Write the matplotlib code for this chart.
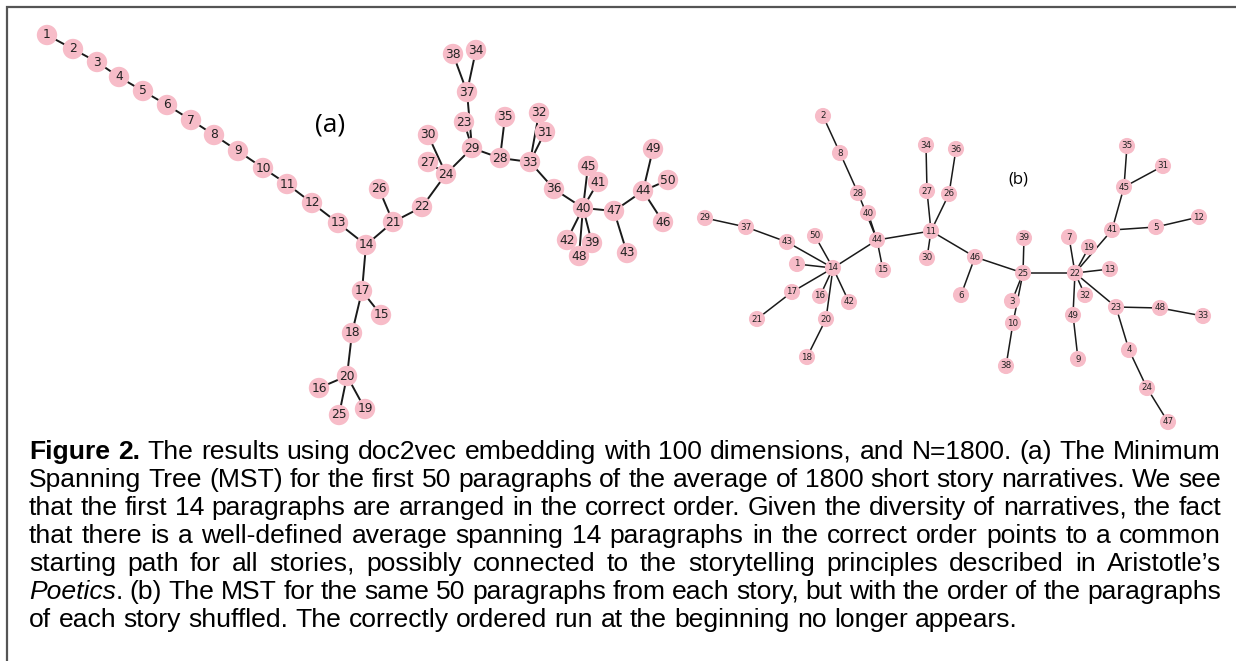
import matplotlib
matplotlib.use("Agg")
import matplotlib.pyplot as plt

W, H = 1236, 661

# panel (a): node positions (layout, image units) and MST edges
pos_a = {
    1: (47, 35), 2: (73, 49), 3: (97, 62), 4: (119, 77), 5: (143, 91),
    6: (167, 105), 7: (191, 120), 8: (214, 135), 9: (238, 151), 10: (263, 168),
    11: (287, 184), 12: (312, 203), 13: (338, 223), 14: (366, 245),
    15: (381, 315), 16: (319, 388), 17: (362, 291), 18: (352, 333),
    19: (365, 409), 20: (347, 376), 21: (393, 222), 22: (422, 207),
    23: (464, 122), 24: (446, 174), 25: (339, 415), 26: (379, 189),
    27: (428, 162), 28: (500, 158), 29: (472, 148), 30: (428, 135),
    31: (545, 132), 32: (539, 113), 33: (530, 162), 34: (476, 50),
    35: (505, 117), 36: (554, 189), 37: (467, 92), 38: (453, 54),
    39: (592, 243), 40: (583, 208), 41: (598, 182), 42: (567, 240),
    43: (627, 253), 44: (643, 191), 45: (588, 166), 46: (663, 222),
    47: (614, 211), 48: (579, 256), 49: (653, 149), 50: (668, 180),
}
edges_a = [(i, i + 1) for i in range(1, 14)] + [
    (14, 21), (21, 26), (21, 22), (22, 24), (24, 27), (24, 30), (24, 29),
    (29, 23), (29, 37), (37, 38), (37, 34), (29, 28), (28, 35), (28, 33),
    (33, 32), (33, 31), (33, 36), (36, 40), (40, 45), (40, 41), (40, 42),
    (40, 48), (40, 39), (40, 47), (47, 43), (47, 44), (44, 49), (44, 50),
    (44, 46), (14, 17), (17, 15), (17, 18), (18, 20), (20, 16), (20, 25),
    (20, 19),
]

# panel (b): shuffled paragraphs
pos_b = {
    1: (797, 264), 2: (823, 116), 3: (1012, 301), 4: (1129, 350), 5: (1156, 227),
    6: (961, 295), 7: (1069, 237), 8: (840, 153), 9: (1078, 359), 10: (1013, 323),
    11: (931, 231), 12: (1199, 217), 13: (1110, 269), 14: (833, 268),
    15: (883, 270), 16: (820, 296), 17: (792, 292), 18: (807, 357),
    19: (1089, 247), 20: (826, 319), 21: (757, 319), 22: (1075, 273),
    23: (1116, 307), 24: (1147, 388), 25: (1023, 273), 26: (949, 194),
    27: (927, 191), 28: (858, 193), 29: (705, 218), 30: (927, 258),
    31: (1163, 166), 32: (1085, 295), 33: (1203, 316), 34: (926, 145),
    35: (1127, 146), 36: (956, 149), 37: (746, 227), 38: (1006, 366),
    39: (1024, 238), 40: (868, 213), 41: (1112, 230), 42: (849, 302),
    43: (787, 242), 44: (877, 240), 45: (1124, 187), 46: (975, 257),
    47: (1168, 422), 48: (1160, 308), 49: (1073, 315), 50: (815, 236),
}
edges_b = [
    (2, 8), (8, 28), (28, 44), (40, 44), (44, 15), (44, 14), (44, 11),
    (14, 43), (43, 37), (37, 29), (14, 50), (14, 1), (14, 17), (17, 21),
    (14, 16), (14, 20), (20, 18), (14, 42), (11, 27), (27, 34), (11, 26),
    (26, 36), (11, 30), (11, 46), (46, 6), (46, 25), (25, 39), (25, 3),
    (25, 10), (10, 38), (25, 22), (22, 7), (22, 19), (22, 41), (41, 45),
    (45, 35), (45, 31), (41, 5), (5, 12), (22, 13), (22, 32), (22, 49),
    (49, 9), (22, 23), (23, 48), (48, 33), (23, 4), (4, 24), (24, 47),
]

caption = [
    [("Figure 2.", "bold"), " The results using doc2vec embedding with 100 dimensions, and N=1800. (a) The Minimum"],
    ["Spanning Tree (MST) for the first 50 paragraphs of the average of 1800 short story narratives. We see"],
    ["that the first 14 paragraphs are arranged in the correct order. Given the diversity of narratives, the fact"],
    ["that there is a well-defined average spanning 14 paragraphs in the correct order points to a common"],
    ["starting path for all stories, possibly connected to the storytelling principles described in Aristotle\u2019s"],
    [("Poetics", "italic"), ". (b) The MST for the same 50 paragraphs from each story, but with the order of the  paragraphs"],
    ["of each story shuffled. The correctly ordered run at the beginning no longer appears."],
]

fig = plt.figure(figsize=(W / 100, H / 100), dpi=100)
ax = fig.add_axes([0, 0, 1, 1])
ax.set_xlim(0, W)
ax.set_ylim(H, 0)
ax.axis("off")

# frame (only top and left edges are visible in the crop)
ax.plot([7, 7, W + 5], [H + 5, 7, 7], color="#555555", lw=1.6, solid_joinstyle="miter")


def draw_tree(pos, edges, size, lw, fs):
    for u, v in edges:
        ax.plot([pos[u][0], pos[v][0]], [pos[u][1], pos[v][1]],
                color="#1a1a1a", lw=lw, zorder=1)
    xs = [p[0] for p in pos.values()]
    ys = [p[1] for p in pos.values()]
    ax.scatter(xs, ys, s=size, color="#f7bcc8", edgecolors="none", zorder=2)
    for n, (x, y) in pos.items():
        ax.text(x, y, str(n), ha="center", va="center", fontsize=fs,
                color="#222222", zorder=3)


draw_tree(pos_a, edges_a, 215, 1.4, 8.8)
draw_tree(pos_b, edges_b, 135, 1.1, 6.3)

ax.text(330, 125, "(a)", fontsize=19, ha="center", va="center", family="Open Sans")
ax.text(1018, 180, "(b)", fontsize=12, ha="center", va="center", family="Open Sans")

# justified caption
fig.canvas.draw()
rend = fig.canvas.get_renderer()
cap_font = "Liberation Sans"
cap_fs = 15.0
left, right = 29, 1221
last_end = 1018
base0, step = 459, 28.0


def width_of(s, style, fs):
    t = ax.text(0, 0, s, fontsize=fs, family=cap_font,
                fontweight="bold" if style == "bold" else "normal",
                fontstyle="italic" if style == "italic" else "normal")
    w = t.get_window_extent(rend).width
    t.remove()
    return w


def tokenize(line):
    tokens = []
    first = True
    for seg in line:
        txt, style = (seg, "normal") if isinstance(seg, str) else seg
        words = txt.split(" ")
        for wi, w in enumerate(words):
            if w == "":
                continue
            if wi == 0 and not first:
                tokens[-1].append((w, style))
            else:
                tokens.append([(w, style)])
        first = False
    return tokens


# scale the caption font so the unjustified last line has the reference width
w_last = width_of(caption[-1][0], "normal", cap_fs)
cap_fs = cap_fs * (last_end - left) / w_last

for li, line in enumerate(caption):
    tokens = tokenize(line)
    widths = [[width_of(t, s, cap_fs) for t, s in tok] for tok in tokens]
    total = sum(sum(w) for w in widths)
    space = width_of("a a", "normal", cap_fs) - 2 * width_of("a", "normal", cap_fs)
    last = li == len(caption) - 1
    gap = space if last else (right - left - total) / (len(tokens) - 1)
    x = left
    y = base0 + li * step
    for tok, ws in zip(tokens, widths):
        for (t, s), w in zip(tok, ws):
            ax.text(x, y, t, fontsize=cap_fs, family=cap_font, va="baseline",
                    fontweight="bold" if s == "bold" else "normal",
                    fontstyle="italic" if s == "italic" else "normal",
                    color="black")
            x += w
        x += gap

fig.savefig("out.png", dpi=100)
